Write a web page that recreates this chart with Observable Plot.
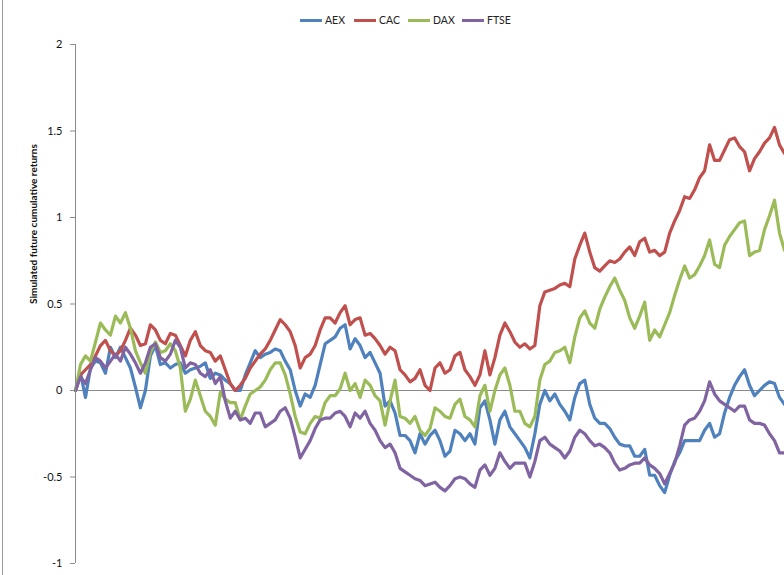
<!DOCTYPE html>
<html>
<head>
<meta charset="utf-8">
<script src="https://cdn.jsdelivr.net/npm/d3@7"></script>
<script src="https://cdn.jsdelivr.net/npm/@observablehq/plot@0.6"></script>
<style>
  body { margin: 0; background: #fff; font-family: Lato, "Open Sans", sans-serif; }
  #wrap { position: relative; width: 784px; height: 575px; overflow: hidden; }
  #edge { position: absolute; left: 2px; top: 0; bottom: 0; width: 0; border-left: 1px solid #9a9a9a; }
  #legend { position: relative; height: 30px; }
  #legend .items { position: absolute; left: 300px; top: 14px; display: flex; }
  #legend .item { width: 54px; display: flex; align-items: center; font-size: 10.5px; color: #222; }
  #legend .sw { width: 22px; height: 3px; margin-right: 3px; }
  #chart svg { display: block; }
</style>
</head>
<body>
<div id="wrap">
  <div id="edge"></div>
  <div id="legend"><div class="items"></div></div>
  <div id="chart"></div>
</div>
<script>
// Four simulated cumulative-return paths, one value per step
const seriesNames = ["AEX", "CAC", "DAX", "FTSE"];
const seriesColors = ["#4F81BD", "#C0504D", "#9BBB59", "#8064A2"];
const yTicks = [-1, -0.5, 0, 0.5, 1, 1.5, 2];
const yTitle = "Simulated future cumulative returns";

const aex = [
  0.00, 0.10, -0.04, 0.13, 0.17, 0.16, 0.10, 0.25, 0.19, 0.25,
  0.19, 0.13, 0.02, -0.10, 0.00, 0.20, 0.26, 0.15, 0.16, 0.13,
  0.15, 0.16, 0.10, 0.12, 0.13, 0.14, 0.16, 0.07, 0.10, 0.09,
  0.06, 0.04, 0.00, 0.00, 0.09, 0.16, 0.23, 0.19, 0.21, 0.22,
  0.24, 0.23, 0.17, 0.12, 0.00, -0.09, -0.02, -0.04, 0.03, 0.15,
  0.27, 0.29, 0.31, 0.36, 0.38, 0.24, 0.30, 0.26, 0.19, 0.22,
  0.16, 0.10, -0.09, -0.06, -0.13, -0.26, -0.26, -0.29, -0.36, -0.25,
  -0.31, -0.26, -0.23, -0.29, -0.38, -0.35, -0.23, -0.25, -0.29, -0.25,
  -0.31, -0.10, -0.06, -0.17, -0.31, -0.17, -0.12, -0.21, -0.25, -0.29,
  -0.33, -0.39, -0.25, -0.08, 0.00, -0.06, -0.02, -0.08, -0.12, -0.17,
  -0.04, 0.04, 0.06, -0.08, -0.16, -0.19, -0.19, -0.22, -0.27, -0.31,
  -0.32, -0.32, -0.38, -0.38, -0.34, -0.49, -0.49, -0.55, -0.59, -0.49,
  -0.41, -0.36, -0.29, -0.29, -0.29, -0.29, -0.23, -0.19, -0.27, -0.25,
  -0.13, -0.04, 0.03, 0.08, 0.12, 0.03, -0.03, 0.00, 0.03, 0.05,
  0.04, -0.04, -0.08
];

const cac = [
  0.00, 0.09, 0.12, 0.15, 0.20, 0.26, 0.29, 0.23, 0.20, 0.23,
  0.29, 0.36, 0.32, 0.26, 0.27, 0.38, 0.35, 0.29, 0.27, 0.33,
  0.32, 0.26, 0.20, 0.29, 0.34, 0.26, 0.23, 0.22, 0.17, 0.20,
  0.12, 0.04, 0.00, 0.03, 0.07, 0.13, 0.17, 0.21, 0.24, 0.29,
  0.35, 0.41, 0.38, 0.34, 0.26, 0.13, 0.19, 0.21, 0.26, 0.35,
  0.42, 0.42, 0.39, 0.45, 0.49, 0.38, 0.41, 0.42, 0.32, 0.33,
  0.30, 0.26, 0.21, 0.25, 0.23, 0.12, 0.09, 0.05, 0.07, 0.12,
  0.03, 0.00, 0.13, 0.16, 0.10, 0.12, 0.20, 0.22, 0.12, 0.08,
  0.03, 0.09, 0.23, 0.09, 0.19, 0.32, 0.39, 0.34, 0.28, 0.25,
  0.27, 0.24, 0.26, 0.49, 0.57, 0.58, 0.59, 0.61, 0.62, 0.60,
  0.76, 0.84, 0.91, 0.80, 0.71, 0.69, 0.72, 0.75, 0.74, 0.76,
  0.80, 0.83, 0.78, 0.86, 0.88, 0.80, 0.81, 0.78, 0.80, 0.91,
  0.98, 1.04, 1.12, 1.11, 1.16, 1.23, 1.27, 1.42, 1.33, 1.33,
  1.39, 1.45, 1.46, 1.41, 1.38, 1.27, 1.34, 1.38, 1.43, 1.46,
  1.52, 1.42, 1.37
];

const dax = [
  0.00, 0.15, 0.20, 0.17, 0.28, 0.39, 0.35, 0.32, 0.43, 0.39,
  0.45, 0.36, 0.23, 0.16, 0.10, 0.22, 0.28, 0.22, 0.23, 0.27,
  0.23, 0.13, -0.12, -0.05, 0.06, -0.03, -0.12, -0.15, -0.20, -0.01,
  -0.05, -0.07, -0.07, -0.17, -0.09, -0.02, 0.00, 0.02, 0.06, 0.12,
  0.16, 0.16, 0.09, -0.02, -0.15, -0.24, -0.25, -0.19, -0.15, -0.16,
  -0.07, -0.03, -0.03, 0.01, 0.10, 0.00, 0.04, -0.04, 0.06, 0.03,
  -0.03, -0.06, -0.20, -0.06, 0.06, -0.15, -0.16, -0.19, -0.15, -0.23,
  -0.26, -0.22, -0.10, -0.12, -0.15, -0.16, -0.08, -0.05, -0.15, -0.17,
  -0.21, -0.03, 0.03, -0.12, 0.00, 0.09, 0.13, 0.03, -0.12, -0.12,
  -0.19, -0.21, -0.15, 0.06, 0.15, 0.17, 0.22, 0.23, 0.25, 0.16,
  0.31, 0.42, 0.46, 0.39, 0.36, 0.47, 0.54, 0.60, 0.65, 0.58,
  0.52, 0.42, 0.36, 0.43, 0.51, 0.29, 0.35, 0.31, 0.38, 0.45,
  0.55, 0.64, 0.72, 0.65, 0.67, 0.72, 0.78, 0.87, 0.73, 0.71,
  0.84, 0.89, 0.93, 0.97, 0.98, 0.78, 0.80, 0.81, 0.93, 1.01,
  1.10, 0.91, 0.81
];

const ftse = [
  0.00, 0.08, 0.04, 0.12, 0.19, 0.17, 0.13, 0.17, 0.21, 0.17,
  0.25, 0.21, 0.16, 0.10, 0.16, 0.25, 0.27, 0.19, 0.17, 0.21,
  0.29, 0.25, 0.13, 0.16, 0.15, 0.10, 0.08, 0.12, 0.04, 0.08,
  -0.06, -0.16, -0.12, -0.17, -0.16, -0.19, -0.13, -0.13, -0.21, -0.19,
  -0.17, -0.12, -0.10, -0.16, -0.27, -0.39, -0.34, -0.29, -0.22, -0.17,
  -0.16, -0.16, -0.13, -0.12, -0.15, -0.21, -0.13, -0.16, -0.12, -0.19,
  -0.23, -0.29, -0.33, -0.31, -0.36, -0.45, -0.47, -0.49, -0.51, -0.52,
  -0.55, -0.54, -0.53, -0.56, -0.58, -0.55, -0.51, -0.50, -0.51, -0.54,
  -0.56, -0.46, -0.43, -0.49, -0.45, -0.36, -0.41, -0.45, -0.42, -0.42,
  -0.42, -0.50, -0.41, -0.29, -0.27, -0.31, -0.33, -0.35, -0.39, -0.35,
  -0.27, -0.23, -0.25, -0.29, -0.32, -0.31, -0.33, -0.36, -0.42, -0.46,
  -0.45, -0.43, -0.42, -0.42, -0.39, -0.43, -0.45, -0.48, -0.54, -0.48,
  -0.42, -0.32, -0.20, -0.17, -0.16, -0.12, -0.06, 0.05, -0.02, -0.06,
  -0.08, -0.10, -0.12, -0.09, -0.09, -0.17, -0.19, -0.19, -0.20, -0.25,
  -0.29, -0.36, -0.36
];

const seriesValues = [aex, cac, dax, ftse];

// Long-format table: one row per series and step
const rows = [];
seriesNames.forEach((name, k) => {
  seriesValues[k].forEach((v, i) => rows.push({ series: name, step: i, value: v }));
});
const lastStep = aex.length - 1;

// Legend with line swatches
const items = document.querySelector("#legend .items");
seriesNames.forEach((name, k) => {
  const it = document.createElement("div");
  it.className = "item";
  const sw = document.createElement("span");
  sw.className = "sw";
  sw.style.background = seriesColors[k];
  const lab = document.createElement("span");
  lab.textContent = name;
  it.append(sw, lab);
  items.append(it);
});

const chart = Plot.plot({
  width: 784,
  height: 545,
  marginLeft: 75,
  marginRight: 0,
  marginTop: 14,
  marginBottom: 12,
  style: { fontFamily: "Lato, 'Open Sans', sans-serif", fontSize: "11px", background: "transparent", color: "#000" },
  x: { domain: [0, lastStep], axis: null },
  y: { domain: [-1, 2], axis: null },
  color: { domain: seriesNames, range: seriesColors },
  marks: [
    Plot.ruleY([0], { stroke: "#8a8a8a", strokeWidth: 1 }),
    Plot.lineY(rows, {
      x: "step", y: "value", z: "series", stroke: "series",
      strokeWidth: 3.2, strokeLinejoin: "round", strokeLinecap: "round"
    }),
    Plot.ruleX([0], { y1: -1, y2: 2, stroke: "#8a8a8a", strokeWidth: 1 }),
    Plot.axisY(yTicks, {
      label: null, tickSize: 5, tickPadding: 8, stroke: "#8a8a8a", fill: "#111",
      tickFormat: d => String(d)
    }),
    Plot.text([yTitle], {
      text: d => d, frameAnchor: "left", dx: -42, rotate: -90,
      fontWeight: "bold", fontSize: 10, fill: "#111"
    })
  ]
});
document.getElementById("chart").append(chart);
</script>
</body>
</html>
